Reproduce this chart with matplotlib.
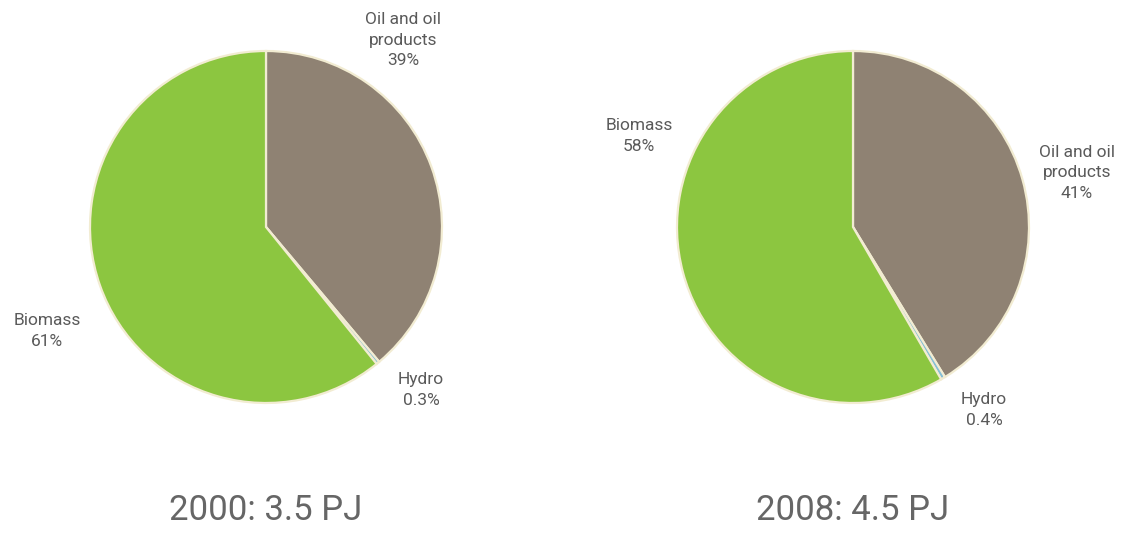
import matplotlib
matplotlib.use("Agg")
import matplotlib.pyplot as plt

# Energy supply shares by source
sources = ["Oil and oil products", "Hydro", "Biomass"]
share_2000 = [39, 0.3, 61]
share_2008 = [41, 0.4, 58]
titles = ["2000: 3.5 PJ", "2008: 4.5 PJ"]
label_2000 = ["Oil and oil\nproducts\n39%", "Hydro\n0.3%", "Biomass\n61%"]
label_2008 = ["Oil and oil\nproducts\n41%", "Hydro\n0.4%", "Biomass\n58%"]

colors = ["#8f8273", "#86bfd6", "#8cc640"]
edge = "#f2ecd2"
text_color = "#5a5a5a"
title_color = "#666666"

W, H = 1126, 533
fig = plt.figure(figsize=(W / 100, H / 100), dpi=100)
ax = fig.add_axes([0, 0, 1, 1])
ax.set_xlim(0, W)
ax.set_ylim(0, H)
ax.set_aspect("equal")
ax.axis("off")

def Y(y):
    return H - y

pies = [
    dict(values=share_2000, labels=label_2000, center=(266, 227), title=titles[0],
         label_pos=[(403, 40), (421, 390), (47, 331)]),
    dict(values=share_2008, labels=label_2008, center=(853, 227), title=titles[1],
         label_pos=[(1077, 173), (984, 410), (639, 136)]),
]

for p in pies:
    cx, cy = p["center"]
    ax.pie(p["values"], colors=colors, startangle=90, counterclock=False,
           center=(cx, Y(cy)), radius=176,
           wedgeprops=dict(edgecolor=edge, linewidth=1.6))
    for txt, (lx, ly) in zip(p["labels"], p["label_pos"]):
        ax.text(lx, Y(ly), txt, ha="center", va="center", fontsize=12.5,
                family="Roboto", color=text_color, linespacing=1.45)
    ax.text(cx, Y(511), p["title"], ha="center", va="center", fontsize=25,
            family="Roboto", color=title_color)

ax.set_xlim(0, W)
ax.set_ylim(0, H)

fig.savefig("out.png", dpi=100, facecolor="white")
